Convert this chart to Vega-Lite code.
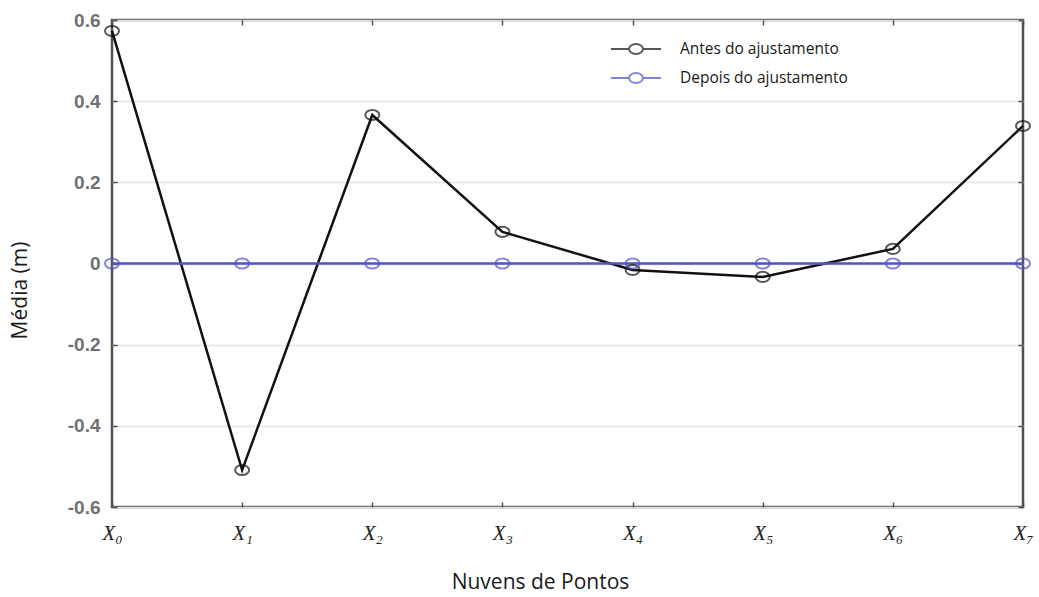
{
  "$schema": "https://vega.github.io/schema/vega-lite/v6.json",
  "width": 911,
  "height": 487,
  "autosize": {"type": "none"},
  "padding": {"left": 112, "top": 20, "right": 16, "bottom": 90},
  "background": "white",
  "config": {
    "view": {"stroke": "#505050", "strokeWidth": 2.5},
    "axis": {"domain": false}
  },
  "data": {
    "values": [
      {"nuvem": "X₀", "serie": "Antes do ajustamento", "media": 0.573},
      {"nuvem": "X₁", "serie": "Antes do ajustamento", "media": -0.509},
      {"nuvem": "X₂", "serie": "Antes do ajustamento", "media": 0.366},
      {"nuvem": "X₃", "serie": "Antes do ajustamento", "media": 0.078},
      {"nuvem": "X₄", "serie": "Antes do ajustamento", "media": -0.016},
      {"nuvem": "X₅", "serie": "Antes do ajustamento", "media": -0.033},
      {"nuvem": "X₆", "serie": "Antes do ajustamento", "media": 0.036},
      {"nuvem": "X₇", "serie": "Antes do ajustamento", "media": 0.339},
      {"nuvem": "X₀", "serie": "Depois do ajustamento", "media": 0},
      {"nuvem": "X₁", "serie": "Depois do ajustamento", "media": 0},
      {"nuvem": "X₂", "serie": "Depois do ajustamento", "media": 0},
      {"nuvem": "X₃", "serie": "Depois do ajustamento", "media": 0},
      {"nuvem": "X₄", "serie": "Depois do ajustamento", "media": 0},
      {"nuvem": "X₅", "serie": "Depois do ajustamento", "media": 0},
      {"nuvem": "X₆", "serie": "Depois do ajustamento", "media": 0},
      {"nuvem": "X₇", "serie": "Depois do ajustamento", "media": 0}
    ]
  },
  "layer": [
    {
      "mark": {"type": "line", "strokeWidth": 2.5},
      "encoding": {
        "x": {
          "field": "nuvem", "type": "ordinal", "sort": null,
          "scale": {"type": "point", "padding": 0},
          "axis": {
            "orient": "bottom", "title": "Nuvens de Pontos", "labelAngle": 0,
            "labelFont": "Liberation Serif", "labelFontStyle": "italic", "labelFontSize": 21,
            "labelColor": "#222222", "labelPadding": 20,
            "tickSize": -5, "tickColor": "#505050", "tickWidth": 1.5,
            "titleFont": "Open Sans", "titleFontSize": 21, "titleFontWeight": "normal", "titleColor": "#1a1a1a",
            "titleX": 428, "titleY": 75, "titleBaseline": "middle", "titleAnchor": null
          }
        },
        "y": {
          "field": "media", "type": "quantitative",
          "scale": {"domain": [-0.6, 0.6], "nice": false, "zero": false},
          "axis": {
            "orient": "left", "title": "Média (m)",
            "values": [-0.6, -0.4, -0.2, 0, 0.2, 0.4, 0.6],
            "labelExpr": "datum.value === 0 ? '0' : replace(format(datum.value, '.1f'), '−', '-')",
            "labelFont": "Liberation Sans", "labelFontSize": 19, "labelFontWeight": "bold", "labelColor": "#707070",
            "labelPadding": 17,
            "tickSize": -5, "tickColor": "#505050", "tickWidth": 1.5,
            "grid": true, "gridColor": "#e3e3e3", "gridWidth": 1.5,
            "titleFont": "Open Sans", "titleFontSize": 21, "titleFontWeight": "normal", "titleColor": "#1a1a1a",
            "titleX": -92, "titleY": 270, "titleBaseline": "middle", "titleAnchor": null
          }
        },
        "color": {
          "field": "serie", "type": "nominal",
          "scale": {"domain": ["Antes do ajustamento", "Depois do ajustamento"], "range": ["#111111", "#5252c4"]},
          "legend": {
            "title": null, "orient": "none", "legendX": 508, "legendY": 13,
            "symbolType": "M-1.67,0H-0.467M0.467,0H1.67M0.467,0A0.467,0.333 0 1,1 -0.467,0A0.467,0.333 0 1,1 0.467,0",
            "symbolSize": 900, "symbolStrokeWidth": 2, "symbolFillColor": "transparent",
            "rowPadding": 4, "labelOffset": 28, "labelLimit": 400,
            "labelFont": "Open Sans", "labelFontSize": 15.5, "labelColor": "#1a1a1a"
          }
        }
      }
    },
    {
      "mark": {"type": "point", "filled": false, "strokeWidth": 2, "size": 196,
               "shape": "M-1,0A1,0.72 0 1,1 1,0A1,0.72 0 1,1 -1,0Z"},
      "encoding": {
        "x": {
          "field": "nuvem", "type": "ordinal", "sort": null,
          "scale": {"type": "point", "padding": 0},
          "axis": {"orient": "top", "title": null, "labels": false, "tickSize": -5, "tickColor": "#505050", "tickWidth": 1.5}
        },
        "y": {
          "field": "media", "type": "quantitative",
          "scale": {"domain": [-0.6, 0.6], "nice": false, "zero": false},
          "axis": {"orient": "right", "title": null, "labels": false, "grid": false,
                   "values": [-0.6, -0.4, -0.2, 0, 0.2, 0.4, 0.6],
                   "tickSize": -5, "tickColor": "#505050", "tickWidth": 1.5}
        },
        "color": {
          "field": "serie", "type": "nominal",
          "scale": {"domain": ["Antes do ajustamento", "Depois do ajustamento"], "range": ["#111111", "#5252c4"]}
        }
      }
    }
  ],
  "resolve": {"axis": {"x": "independent", "y": "independent"}}
}
